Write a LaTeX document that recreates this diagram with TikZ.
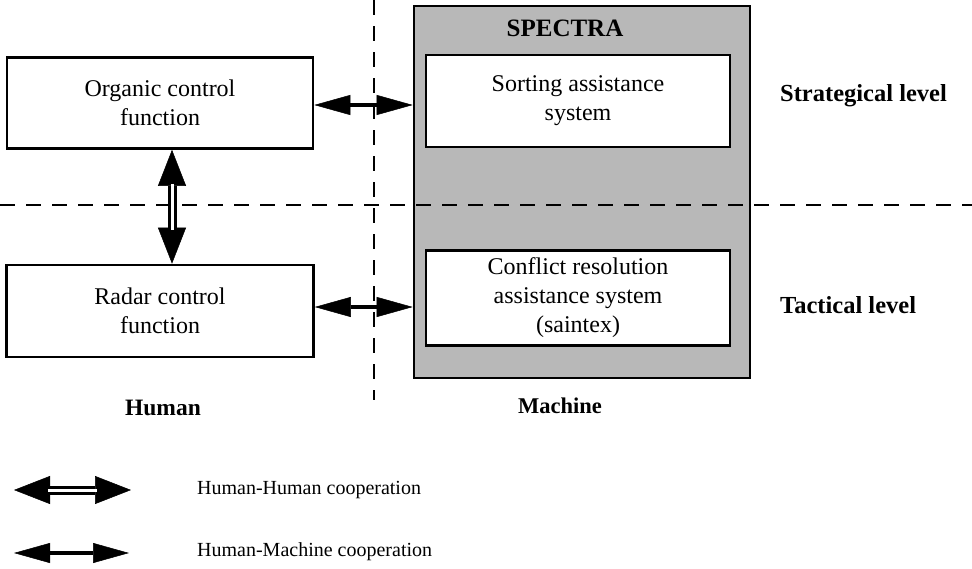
\documentclass[tikz,border=0pt]{standalone}
\usepackage{fontspec}
\setmainfont{Liberation Serif}
\usetikzlibrary{arrows.meta}
\begin{document}
\begin{tikzpicture}[x=1pt,y=-1pt,
  box/.style={draw, line width=2.6pt, fill=white, inner sep=0pt, align=center,
    font=\fontsize{24}{29}\selectfont},
  shadedbox/.style={draw, line width=2.6pt, fill=black!28, inner sep=0pt},
  lbl/.style={font=\fontsize{23.5}{28}\selectfont\bfseries, inner sep=0pt},
  legtext/.style={font=\fontsize{20}{24}\selectfont, inner sep=0pt, anchor=west},
  divider/.style={line width=2.2pt, dash pattern=on 15pt off 11pt},
  hm/.style={line width=3.5pt,
    {Triangle[length=36pt,width=20pt,line width=0.5pt]}-{Triangle[length=36pt,width=20pt,line width=0.5pt]}},
  hhtips/.style={line width=9pt,
    {Triangle[length=36pt,width=28pt,line width=0.5pt]}-{Triangle[length=36pt,width=28pt,line width=0.5pt]}},
  hhgap/.style={white, line width=3pt, shorten <=34pt, shorten >=34pt}
]
\useasboundingbox (0,0) rectangle (972,568);

% machine side: SPECTRA frame with its two assistance systems
\node[shadedbox, minimum width=336pt, minimum height=372pt] (spectra) at (582,192) {};
\node[lbl, font=\fontsize{25}{28}\selectfont\bfseries] (spectralbl) at (565,28) {SPECTRA};

% level and side dividers
\coordinate (dtop) at (374,0);
\coordinate (dbot) at (374,400);
\coordinate (hleft) at (0,205);
\coordinate (hright) at (972,205);
\draw[divider] (dtop) -- (dbot);
\draw[divider] (hleft) -- (hright);

\node[box, minimum width=304pt, minimum height=92pt] (sorting) at (578,101)
  {Sorting assistance\\system};
\node[box, minimum width=304pt, minimum height=95pt] (conflict) at (578,298)
  {Conflict resolution\\assistance system\\(saintex)};

% human side
\node[box, minimum width=306pt, minimum height=91pt] (organic) at (160,103)
  {Organic control\\function};
\node[box, minimum width=307pt, minimum height=92pt] (radar) at (160,311)
  {Radar control\\function};

% human-machine links
\coordinate (top) at (0,105);
\coordinate (bot) at (0,307);
\draw[hm] (organic.east |- top) -- (spectra.west |- top);
\draw[hm] (radar.east |- bot) -- (spectra.west |- bot);

% human-human link
\coordinate (vx) at (172,0);
\draw[hhtips] (organic.south -| vx) -- (radar.north -| vx);
\draw[hhgap] (organic.south -| vx) -- (radar.north -| vx);

% level and side labels
\node[lbl, anchor=west, font=\fontsize{24.5}{28}\selectfont\bfseries] (strat) at (780,96) {Strategical level};
\node[lbl, anchor=west, font=\fontsize{24.5}{28}\selectfont\bfseries] (tact) at (780,305) {Tactical level};
\node[lbl] (human) at (163,408) {Human};
\node[lbl, font=\fontsize{22.5}{28}\selectfont\bfseries] (machine) at (560,406) {Machine};

% legend
\coordinate (l1a) at (14,490);
\coordinate (l1b) at (131,490);
\coordinate (l2a) at (14,553);
\coordinate (l2b) at (129,553);
\draw[hhtips] (l1a) -- (l1b);
\draw[hhgap] (l1a) -- (l1b);
\draw[hm] (l2a) -- (l2b);
\node[legtext] (hh) at (197,490) {Human-Human cooperation};
\node[legtext] (hmtext) at (197,552) {Human-Machine cooperation};
\end{tikzpicture}
\end{document}
